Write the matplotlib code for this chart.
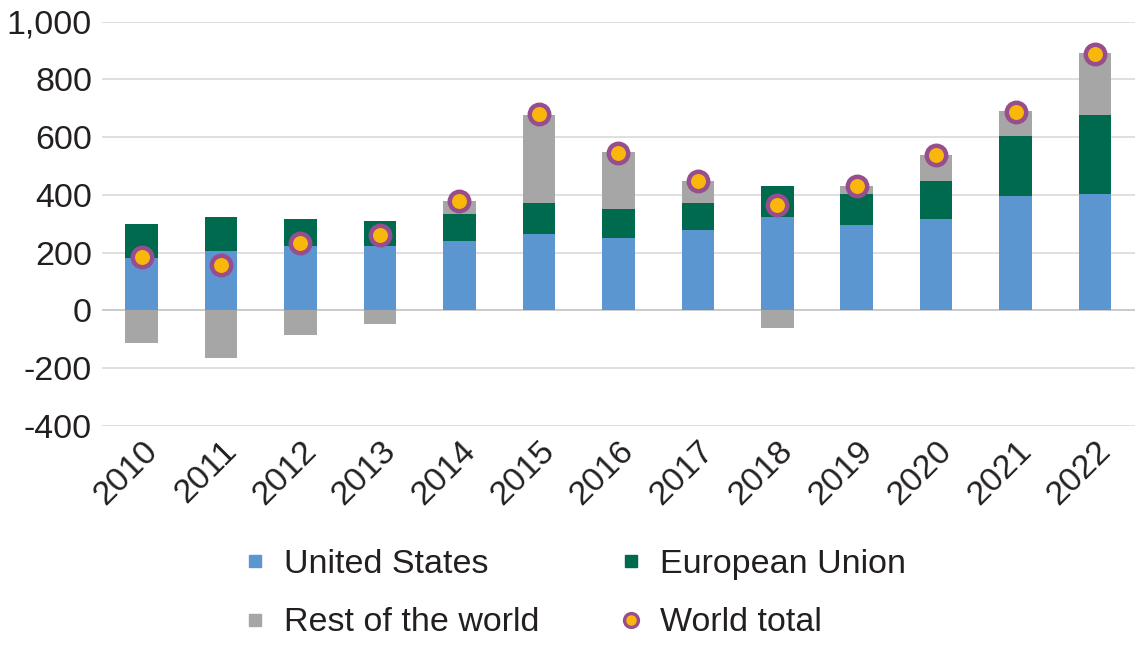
import matplotlib
matplotlib.use("Agg")
import matplotlib.pyplot as plt
from matplotlib.lines import Line2D
import numpy as np

plt.rcParams['font.family'] = ['Liberation Sans', 'DejaVu Sans']

years = ["2010", "2011", "2012", "2013", "2014", "2015", "2016",
         "2017", "2018", "2019", "2020", "2021", "2022"]
united_states = [182, 205, 224, 223, 241, 264, 252, 278, 323, 294, 316, 395, 403]
european_union = [117, 117, 93, 85, 93, 107, 98, 93, 107, 110, 131, 210, 275]
rest_of_world = [-115, -164, -86, -48, 45, 306, 198, 75, -60, 27, 91, 84, 212]
world_total = [183, 156, 232, 259, 380, 679, 545, 447, 366, 429, 538, 687, 888]

c_us = "#5B96D1"
c_eu = "#006A4E"
c_row = "#A6A6A6"
c_ring = "#974D8E"
c_dot = "#F8B70A"
txt = "#231F20"
fs = 24.5

fig = plt.figure(figsize=(11.44, 6.53), dpi=100)
ax = fig.add_axes([0.089, 0.348, 0.903, 0.619])

x = np.arange(len(years))
us = np.array(united_states)
eu = np.array(european_union)
row = np.array(rest_of_world)
w = 0.41

ax.bar(x, us, width=w, color=c_us, zorder=2)
ax.bar(x, eu, width=w, bottom=us, color=c_eu, zorder=2)
row_bottom = np.where(row >= 0, us + eu, 0)
ax.bar(x, row, width=w, bottom=row_bottom, color=c_row, zorder=2)
ax.plot(x, world_total, linestyle='none', marker='o', markersize=14,
        markerfacecolor=c_dot, markeredgecolor=c_ring, markeredgewidth=3.2, zorder=3)

ax.set_xlim(-0.5, len(years) - 0.5)
ax.set_ylim(-400, 1000)
ax.set_yticks(range(-400, 1001, 200))
ax.set_yticklabels([f"{v:,}" for v in range(-400, 1001, 200)])
ax.yaxis.grid(True, color="#D9D9D9", linewidth=1.2, zorder=0)
ax.axhline(0, color="#707070", linewidth=1.2, zorder=1)
for s in ax.spines.values():
    s.set_visible(False)
ax.tick_params(axis='both', length=0, labelsize=fs, colors=txt)
ax.tick_params(axis='y', pad=7)
ax.tick_params(axis='x', pad=7)
ax.set_xticks(x)
ax.set_xticklabels(years, rotation=45, ha='right', va='top', rotation_mode='anchor')

handles = [
    Line2D([], [], linestyle='none', marker='s', markersize=8.5, color=c_us),
    Line2D([], [], linestyle='none', marker='s', markersize=8.5, color=c_row),
    Line2D([], [], linestyle='none', marker='s', markersize=8.5, color=c_eu),
    Line2D([], [], linestyle='none', marker='o', markersize=10,
           markerfacecolor=c_dot, markeredgecolor=c_ring, markeredgewidth=2.4),
]
labels = ["United States", "Rest of the world", "European Union", "World total"]
fig.legend(handles, labels, ncol=2, loc='upper left', bbox_to_anchor=(0.214, 0.160),
           frameon=False, fontsize=fs, handlelength=0.6, handletextpad=0.55,
           columnspacing=2.4, labelspacing=0.82, borderpad=0, borderaxespad=0,
           labelcolor=txt)

fig.savefig("out.png", dpi=100)
